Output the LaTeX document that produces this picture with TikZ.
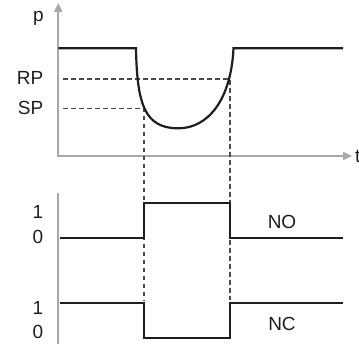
\documentclass[tikz,border=0pt]{standalone}
\usepackage{fontspec}
\setmainfont{Liberation Sans}
\usetikzlibrary{arrows.meta}
\definecolor{axisgray}{HTML}{A8A8A8}
\definecolor{sigblack}{HTML}{1E1E1E}
\definecolor{dashgray}{HTML}{4A4A4A}
\begin{document}
\begin{tikzpicture}[x=1pt,y=-1pt,
  axis/.style={draw=axisgray,line width=2pt},
  sig/.style={draw=sigblack,line width=2.2pt,line join=miter},
  guide/.style={draw=dashgray,line width=1.6pt,dash pattern=on 4.5pt off 3.5pt},
  lbl/.style={inner sep=0pt,text=sigblack,font=\fontsize{19}{21}\selectfont}]
\useasboundingbox (0,0) rectangle (359,345);
% axes
\coordinate (ytop) at (58.3,3);
\coordinate (orig) at (58.3,156);
\coordinate (xend) at (352,156);
\coordinate (ltop) at (58.3,193.3);
\coordinate (lbot) at (58.3,344);
\draw[axis,{Triangle[length=9pt,width=8pt]}-{Triangle[length=9pt,width=8pt]}] (ytop) -- (orig) -- (xend);
\draw[axis] (ltop) -- (lbot);
% labels
\node[lbl] (p) at (38.5,18.8) {p};
\node[lbl,anchor=west] (t) at (355,156.5) {t};
\node[lbl,anchor=east] (rp) at (43.5,77.5) {RP};
\node[lbl,anchor=east] (sp) at (43.5,107.5) {SP};
\node[lbl,anchor=east] (one1) at (43.5,211.5) {1};
\node[lbl,anchor=east] (zero1) at (43.5,237) {0};
\node[lbl,anchor=east] (one2) at (43.5,308) {1};
\node[lbl,anchor=east] (zero2) at (43.5,331.5) {0};
\node[lbl] (no) at (282,221.5) {NO};
\node[lbl] (nc) at (282,323.5) {NC};
% guide lines
\coordinate (rpS) at (63,79);
\coordinate (rpE) at (229.8,79);
\coordinate (rpD) at (229.8,300);
\coordinate (spS) at (63,108.3);
\coordinate (spE) at (143.8,108.3);
\coordinate (spD) at (143.8,300);
\draw[guide] (rpS) -- (rpE) -- (rpD);
\draw[guide] (spS) -- (spE) -- (spD);
% pressure curve
\coordinate (p0) at (58.3,48.3);
\coordinate (p1) at (136,48.3);
\coordinate (pb) at (178.3,128.3);
\coordinate (p2) at (233.5,48.3);
\coordinate (p3) at (343,48.3);
\draw[sig] (p0) -- (p1) .. controls (137,105) and (145,128.3) .. (pb)
  .. controls (208,128.3) and (231,100) .. (p2) -- (p3);
% NO signal
\coordinate (a0) at (60,238);
\coordinate (a1) at (143.8,238);
\coordinate (a2) at (143.8,203);
\coordinate (a3) at (229.8,203);
\coordinate (a4) at (229.8,238);
\coordinate (a5) at (343,238);
\draw[sig] (a0) -- (a1) -- (a2) -- (a3) -- (a4) -- (a5);
% NC signal
\coordinate (b0) at (60,303.3);
\coordinate (b1) at (143.8,303.3);
\coordinate (b2) at (143.8,338);
\coordinate (b3) at (229.8,338);
\coordinate (b4) at (229.8,303.3);
\coordinate (b5) at (343,303.3);
\draw[sig] (b0) -- (b1) -- (b2) -- (b3) -- (b4) -- (b5);
\end{tikzpicture}
\end{document}
